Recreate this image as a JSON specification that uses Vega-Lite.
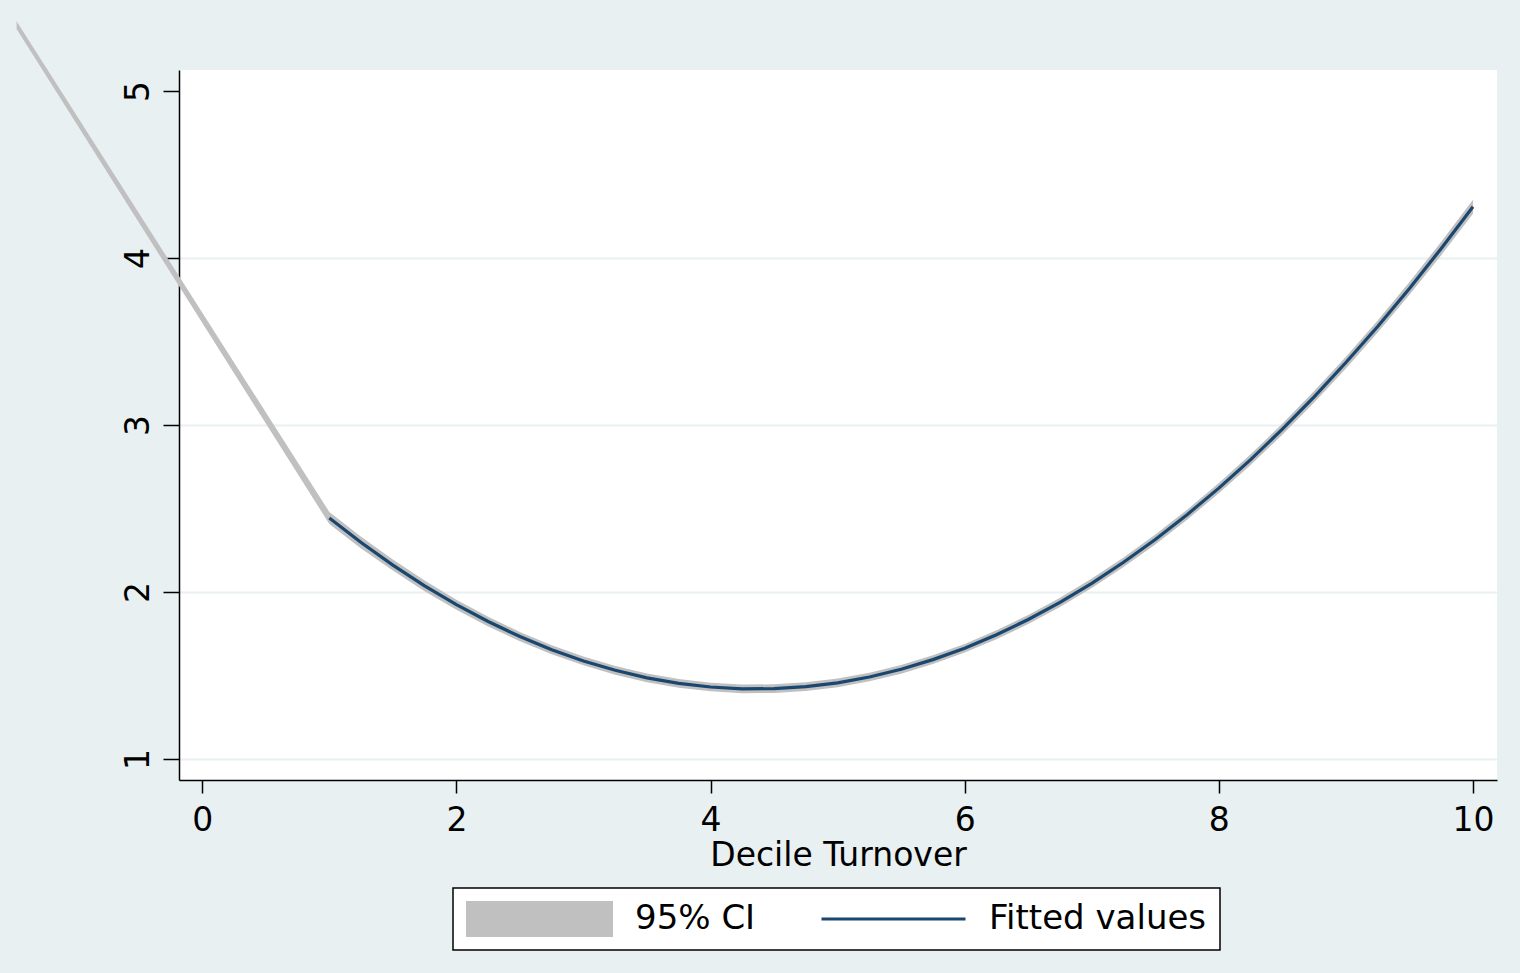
{
  "$schema": "https://vega.github.io/schema/vega-lite/v6.json",
  "width": 1318,
  "height": 710,
  "autosize": {"type": "none"},
  "padding": {"left": 179, "top": 70, "right": 23, "bottom": 193},
  "background": "#e8f0f2",
  "config": {
    "view": {"stroke": null, "fill": "#ffffff"},
    "font": "DejaVu Sans"
  },
  "datasets": {
    "ci": [
      {"x": -1.461, "lo": 5.372, "hi": 5.418},
      {"x": 1, "lo": 2.407, "hi": 2.479},
      {"x": 1.25, "lo": 2.261, "hi": 2.331},
      {"x": 1.5, "lo": 2.128, "hi": 2.194},
      {"x": 1.75, "lo": 2.005, "hi": 2.069},
      {"x": 2, "lo": 1.894, "hi": 1.954},
      {"x": 2.25, "lo": 1.794, "hi": 1.852},
      {"x": 2.5, "lo": 1.705, "hi": 1.761},
      {"x": 2.75, "lo": 1.627, "hi": 1.681},
      {"x": 3, "lo": 1.561, "hi": 1.613},
      {"x": 3.25, "lo": 1.505, "hi": 1.557},
      {"x": 3.5, "lo": 1.46, "hi": 1.512},
      {"x": 3.75, "lo": 1.427, "hi": 1.479},
      {"x": 4, "lo": 1.405, "hi": 1.457},
      {"x": 4.25, "lo": 1.394, "hi": 1.446},
      {"x": 4.5, "lo": 1.395, "hi": 1.447},
      {"x": 4.75, "lo": 1.407, "hi": 1.459},
      {"x": 5, "lo": 1.43, "hi": 1.482},
      {"x": 5.25, "lo": 1.465, "hi": 1.517},
      {"x": 5.5, "lo": 1.511, "hi": 1.563},
      {"x": 5.75, "lo": 1.569, "hi": 1.621},
      {"x": 6, "lo": 1.637, "hi": 1.689},
      {"x": 6.25, "lo": 1.717, "hi": 1.771},
      {"x": 6.5, "lo": 1.808, "hi": 1.862},
      {"x": 6.75, "lo": 1.91, "hi": 1.966},
      {"x": 7, "lo": 2.024, "hi": 2.08},
      {"x": 7.25, "lo": 2.149, "hi": 2.207},
      {"x": 7.5, "lo": 2.284, "hi": 2.344},
      {"x": 7.75, "lo": 2.433, "hi": 2.493},
      {"x": 8, "lo": 2.591, "hi": 2.653},
      {"x": 8.25, "lo": 2.761, "hi": 2.825},
      {"x": 8.5, "lo": 2.942, "hi": 3.008},
      {"x": 8.75, "lo": 3.135, "hi": 3.203},
      {"x": 9, "lo": 3.339, "hi": 3.409},
      {"x": 9.25, "lo": 3.554, "hi": 3.626},
      {"x": 9.5, "lo": 3.78, "hi": 3.856},
      {"x": 9.75, "lo": 4.017, "hi": 4.097},
      {"x": 10, "lo": 4.265, "hi": 4.349}
    ],
    "fit": [
      {"x": 1, "fit": 2.443, "series": "Fitted values"},
      {"x": 1.25, "fit": 2.296, "series": "Fitted values"},
      {"x": 1.5, "fit": 2.161, "series": "Fitted values"},
      {"x": 1.75, "fit": 2.037, "series": "Fitted values"},
      {"x": 2, "fit": 1.924, "series": "Fitted values"},
      {"x": 2.25, "fit": 1.823, "series": "Fitted values"},
      {"x": 2.5, "fit": 1.733, "series": "Fitted values"},
      {"x": 2.75, "fit": 1.654, "series": "Fitted values"},
      {"x": 3, "fit": 1.587, "series": "Fitted values"},
      {"x": 3.25, "fit": 1.531, "series": "Fitted values"},
      {"x": 3.5, "fit": 1.486, "series": "Fitted values"},
      {"x": 3.75, "fit": 1.453, "series": "Fitted values"},
      {"x": 4, "fit": 1.431, "series": "Fitted values"},
      {"x": 4.25, "fit": 1.42, "series": "Fitted values"},
      {"x": 4.5, "fit": 1.421, "series": "Fitted values"},
      {"x": 4.75, "fit": 1.433, "series": "Fitted values"},
      {"x": 5, "fit": 1.456, "series": "Fitted values"},
      {"x": 5.25, "fit": 1.491, "series": "Fitted values"},
      {"x": 5.5, "fit": 1.537, "series": "Fitted values"},
      {"x": 5.75, "fit": 1.595, "series": "Fitted values"},
      {"x": 6, "fit": 1.663, "series": "Fitted values"},
      {"x": 6.25, "fit": 1.744, "series": "Fitted values"},
      {"x": 6.5, "fit": 1.835, "series": "Fitted values"},
      {"x": 6.75, "fit": 1.938, "series": "Fitted values"},
      {"x": 7, "fit": 2.052, "series": "Fitted values"},
      {"x": 7.25, "fit": 2.178, "series": "Fitted values"},
      {"x": 7.5, "fit": 2.314, "series": "Fitted values"},
      {"x": 7.75, "fit": 2.463, "series": "Fitted values"},
      {"x": 8, "fit": 2.622, "series": "Fitted values"},
      {"x": 8.25, "fit": 2.793, "series": "Fitted values"},
      {"x": 8.5, "fit": 2.975, "series": "Fitted values"},
      {"x": 8.75, "fit": 3.169, "series": "Fitted values"},
      {"x": 9, "fit": 3.374, "series": "Fitted values"},
      {"x": 9.25, "fit": 3.59, "series": "Fitted values"},
      {"x": 9.5, "fit": 3.818, "series": "Fitted values"},
      {"x": 9.75, "fit": 4.057, "series": "Fitted values"},
      {"x": 10, "fit": 4.307, "series": "Fitted values"}
    ]
  },
  "layer": [
    {
      "data": {"name": "ci"},
      "mark": {"type": "area", "color": "#c0c0c0", "clip": false},
      "encoding": {
        "x": {
          "field": "x",
          "type": "quantitative",
          "scale": {"domain": [-0.183, 10.189], "nice": false, "zero": false},
          "axis": {
            "values": [0, 2, 4, 6, 8, 10],
            "format": "d",
            "title": "Decile Turnover",
            "grid": false,
            "domainColor": "#000000",
            "domainWidth": 1.5,
            "tickColor": "#000000",
            "tickWidth": 1.5,
            "tickSize": 13,
            "labelFontSize": 33,
            "labelColor": "#000000",
            "labelPadding": 11,
            "titleFontSize": 33,
            "titleFontWeight": "normal",
            "titleColor": "#000000",
            "titlePadding": 2
          }
        },
        "y": {
          "field": "lo",
          "type": "quantitative",
          "scale": {"domain": [0.874, 5.126], "nice": false, "zero": false},
          "axis": {
            "values": [1, 2, 3, 4, 5],
            "format": "d",
            "title": null,
            "grid": true,
            "gridColor": {"condition": {"test": "datum.value === 5", "value": "rgba(0,0,0,0)"}, "value": "#e8f0f2"},
            "gridWidth": 2,
            "domainColor": "#000000",
            "domainWidth": 1.5,
            "tickColor": "#000000",
            "tickWidth": 1.5,
            "tickSize": 16,
            "labelFontSize": 33,
            "labelColor": "#000000",
            "labelAngle": -90,
            "labelAlign": "center",
            "labelBaseline": "alphabetic",
            "labelPadding": 15
          }
        },
        "y2": {"field": "hi"}
      }
    },
    {
      "data": {"name": "fit"},
      "mark": {"type": "line", "strokeWidth": 3.2, "clip": false},
      "encoding": {
        "x": {"field": "x", "type": "quantitative"},
        "y": {"field": "fit", "type": "quantitative"},
        "color": {
          "field": "series",
          "type": "nominal",
          "scale": {"domain": ["95% CI", "Fitted values"], "range": ["#c0c0c0", "#1a476f"]},
          "legend": {
            "orient": "none",
            "legendX": 274,
            "legendY": 818,
            "direction": "horizontal",
            "title": null,
            "padding": 13,
            "strokeColor": "#000000",
            "fillColor": "#ffffff",
            "symbolSize": 20736,
            "symbolStrokeWidth": 3,
            "labelOffset": 22,
            "columnPadding": 64,
            "labelFontSize": 34,
            "labelColor": "#000000",
            "labelLimit": 400,
            "clipHeight": 36,
            "encode": {
              "legend": {"update": {"strokeWidth": {"value": 1.5}}},
              "symbols": {
                "update": {
                  "shape": {"signal": "datum.value === '95% CI' ? 'M-1,-0.25H1V0.25H-1Z' : 'M-1,0H1'"},
                  "fill": {"signal": "datum.value === '95% CI' ? '#c0c0c0' : 'transparent'"},
                  "stroke": {"signal": "datum.value === '95% CI' ? 'transparent' : '#1a476f'"},
                  "strokeWidth": {"value": 3},
                  "opacity": {"value": 1}
                }
              }
            }
          }
        }
      }
    }
  ]
}
